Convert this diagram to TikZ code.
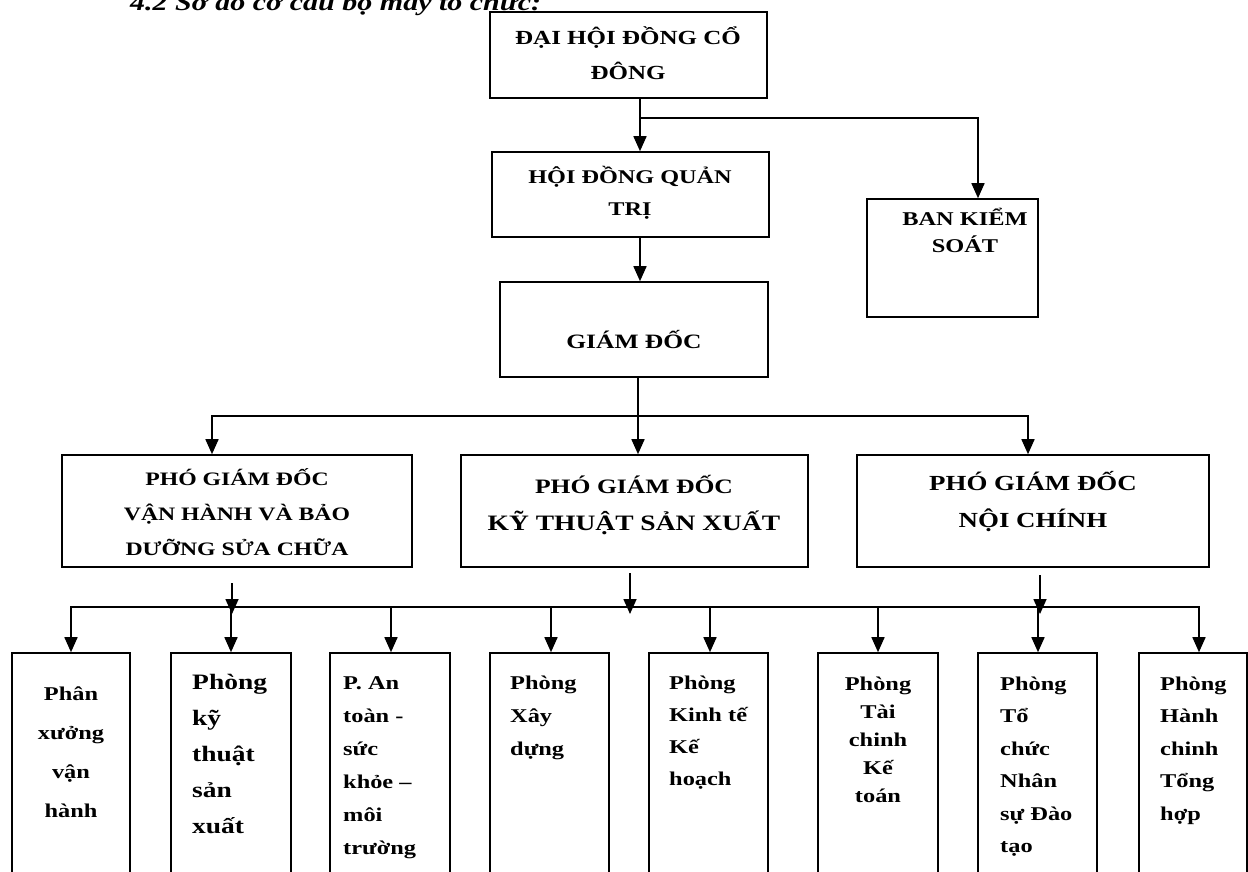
\documentclass[tikz,border=0pt]{standalone}
\usepackage{fontspec}
\setmainfont{Liberation Serif}[FakeStretch=1.25]
\usetikzlibrary{arrows.meta,fit}
\newcommand\fstrut{\rule{0pt}{1.1em}}
\begin{document}
\begin{tikzpicture}[x=1pt,y=-1pt,
  box/.style={draw, line width=1.6pt, inner sep=0pt},
  conn/.style={line width=1.6pt, line cap=rect},
  arr/.style={conn, -{Triangle[length=15pt,width=13pt]}},
  txt/.style={inner sep=0pt, anchor=north, align=center},
  ltxt/.style={inner sep=0pt, anchor=north west, align=left},
  fs/.style 2 args={font=\bfseries\fontsize{#1}{#2}\selectfont}]
\useasboundingbox (0,0) rectangle (1248,871);

% title (cut at top, as in the reference)
\node[inner sep=0pt, anchor=base west, font=\bfseries\itshape\fontsize{24}{24}\selectfont] (title) at (130,10) {4.2 Sơ đồ cơ cấu bộ máy tổ chức:};

% upper boxes
\node[box, fit={(490,12) (767,98)}] (dh) {};
\node[txt, fs={20}{35}] (dht) at (628,22.6) {\fstrut ĐẠI HỘI ĐỒNG CỔ\\ĐÔNG};

\node[box, fit={(492,152) (769,237)}] (hd) {};
\node[txt, fs={19.4}{32}] (hdt) at (630,161.7) {\fstrut HỘI ĐỒNG QUẢN\\TRỊ};

\node[box, fit={(867,199) (1038,317)}] (bks) {};
\node[txt, fs={19.5}{27}] (bkst) at (965,203.5) {\fstrut BAN KIỂM\\SOÁT};

\node[box, fit={(500,282) (768,377)}] (gd) {};
\node[txt, fs={20.4}{30}] (gdt) at (634,325.6) {\fstrut GIÁM ĐỐC};

\node[box, fit={(62,455) (412,567)}] (vh) {};
\node[txt, fs={19}{35}] (vht) at (237,464.1) {\fstrut PHÓ GIÁM ĐỐC\\VẬN HÀNH VÀ BẢO\\DƯỠNG SỬA CHỮA};

\node[box, fit={(461,455) (808,567)}] (kt) {};
\node[txt, fs={20.5}{30}] (kta) at (634,470.5) {\fstrut PHÓ GIÁM ĐỐC};
\node[txt, fs={22}{30}] (ktb) at (634,505.8) {\fstrut KỸ THUẬT SẢN XUẤT};

\node[box, fit={(857,455) (1209,567)}] (nc) {};
\node[txt, fs={21.5}{37}] (nct) at (1033,466.4) {\fstrut PHÓ GIÁM ĐỐC\\NỘI CHÍNH};

% lower boxes (cut at bottom)
\node[box, fit={(12,653) (130,900)}] (b1) {};
\node[box, fit={(171,653) (291,900)}] (b2) {};
\node[box, fit={(330,653) (450,900)}] (b3) {};
\node[box, fit={(490,653) (609,900)}] (b4) {};
\node[box, fit={(649,653) (768,900)}] (b5) {};
\node[box, fit={(818,653) (938,900)}] (b6) {};
\node[box, fit={(978,653) (1097,900)}] (b7) {};
\node[box, fit={(1139,653) (1247,900)}] (b8) {};

\node[txt, fs={19.5}{39}] (b1t) at (71,678.5) {\fstrut Phân\\xưởng\\vận\\hành};
\node[ltxt, fs={22}{36}] (b2t) at (192,664.8) {\fstrut Phòng\\kỹ\\thuật\\sản\\xuất};
\node[ltxt, fs={19.5}{33}] (b3t) at (343,667.5) {\fstrut P. An\\toàn -\\sức\\khỏe –\\môi\\trường};
\node[ltxt, fs={19.5}{33}] (b4t) at (510,667.5) {\fstrut Phòng\\Xây\\dựng};
\node[ltxt, fs={19.5}{32}] (b5t) at (669,667.5) {\fstrut Phòng\\Kinh tế\\Kế\\hoạch};
\node[txt, fs={19.5}{28}] (b6t) at (878,668.5) {\fstrut Phòng\\Tài\\chinh\\Kế\\toán};
\node[ltxt, fs={19.5}{32.5}] (b7t) at (1000,668.5) {\fstrut Phòng\\Tổ\\chức\\Nhân\\sự Đào\\tạo};
\node[ltxt, fs={19.5}{32.5}] (b8t) at (1160,668.5) {\fstrut Phòng\\Hành\\chinh\\Tổng\\hợp};

% upper connectors
\coordinate (j1) at (640,118);
\coordinate (jb) at (978,118);
\draw[arr] (dh.south -| j1) -- (hd.north -| j1);
\draw[arr] (j1) -- (jb) -- (bks.north -| jb);
\draw[arr] (hd.south -| j1) -- (gd.north -| j1);

\coordinate (j3) at (638,416);
\coordinate (j3l) at (212,416);
\coordinate (j3r) at (1028,416);
\draw[conn] (j3l) -- (j3r);
\draw[arr] (gd.south -| j3) -- (kt.north -| j3);
\draw[arr] (j3l) -- (vh.north -| j3l);
\draw[arr] (j3r) -- (nc.north -| j3r);

% lower bus
\coordinate (bl) at (71,607);
\coordinate (br) at (1199,607);
\draw[conn] (bl) -- (br);
\coordinate (u1) at (232,614);
\coordinate (u2) at (630,614);
\coordinate (u3) at (1040,614);
\draw[arr, shorten <=16pt] (vh.south -| u1) -- (u1);
\draw[arr, shorten <=6pt] (kt.south -| u2) -- (u2);
\draw[arr, shorten <=8pt] (nc.south -| u3) -- (u3);

\coordinate (d1) at (71,607);
\coordinate (d2) at (231,607);
\coordinate (d3) at (391,607);
\coordinate (d4) at (551,607);
\coordinate (d5) at (710,607);
\coordinate (d6) at (878,607);
\coordinate (d7) at (1038,607);
\coordinate (d8) at (1199,607);
\foreach \i in {1,...,8} {
  \draw[arr] (d\i) -- (b\i.north -| d\i);
}
\end{tikzpicture}
\end{document}
